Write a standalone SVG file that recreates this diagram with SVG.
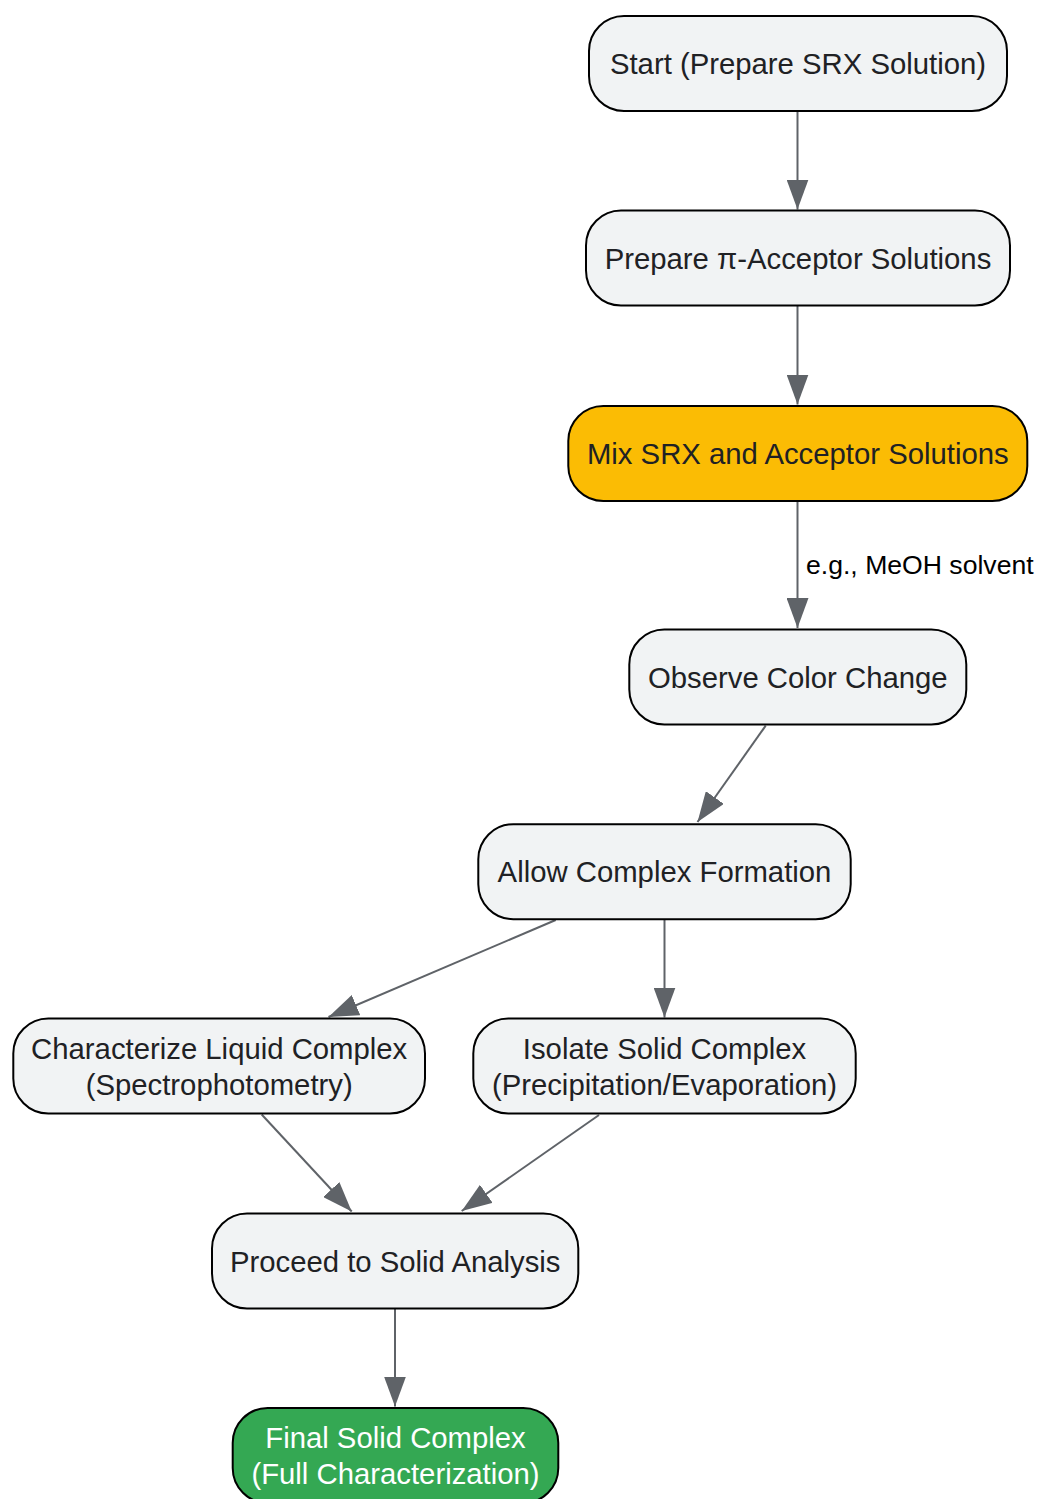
<svg xmlns="http://www.w3.org/2000/svg" width="1038" height="1499" viewBox="0 0 1038 1499">
<style>
  .node rect { fill: #f1f3f4; stroke: #000000; stroke-width: 2; }
  .node text { font-family: "Liberation Sans", Arial, sans-serif; font-size: 29.3px; fill: #202124; text-anchor: middle; }
  #mix rect { fill: #fbbc04; }
  #final rect { fill: #34a853; }
  #final text { fill: #ffffff; }
  .edges path { fill: none; stroke: #5f6368; stroke-width: 2; marker-end: url(#arrow); }
  .elabel { font-family: "Liberation Sans", Arial, sans-serif; font-size: 26.6px; fill: #000000; }
</style>
<defs>
  <marker id="arrow" markerUnits="userSpaceOnUse" markerWidth="30" markerHeight="22" refX="30" refY="11" orient="auto">
    <path d="M0,0 L30,11 L0,22 z" fill="#5f6368"/>
  </marker>
</defs>
<rect x="0" y="0" width="1038" height="1499" fill="#ffffff"/>
<g class="edges" id="edges">
  <path d="M797.5,112 L797.5,209.5"/>
  <path d="M797.5,306 L797.5,404.5"/>
  <path d="M797.5,501 L797.5,628"/>
  <path d="M765.7,725.7 L697.5,822"/>
  <path d="M555.7,920 L328.5,1017"/>
  <path d="M664.5,920 L664.5,1017.5"/>
  <path d="M261.7,1114.5 L351.7,1211.5"/>
  <path d="M599,1115 L461.7,1211"/>
  <path d="M395,1309 L395,1406.5"/>
  <text class="elabel" x="806" y="573.5">e.g., MeOH solvent</text>
</g>
<g class="node" id="start">
  <rect x="589" y="16" width="418" height="95" rx="35" ry="35"/>
  <text x="798" y="74">Start (Prepare SRX Solution)</text>
</g>
<g class="node" id="prepare">
  <rect x="586" y="210.5" width="424" height="95" rx="35" ry="35"/>
  <text x="798" y="268.5">Prepare π-Acceptor Solutions</text>
</g>
<g class="node" id="mix">
  <rect x="568.3" y="406" width="459" height="95" rx="35" ry="35"/>
  <text x="797.8" y="464">Mix SRX and Acceptor Solutions</text>
</g>
<g class="node" id="observe">
  <rect x="629.3" y="629.5" width="337" height="95" rx="35" ry="35"/>
  <text x="797.8" y="687.5">Observe Color Change</text>
</g>
<g class="node" id="allow">
  <rect x="478.3" y="824.2" width="372.4" height="95" rx="35" ry="35"/>
  <text x="664.5" y="882.2">Allow Complex Formation</text>
</g>
<g class="node" id="characterize">
  <rect x="13.3" y="1018.5" width="411.7" height="95" rx="35" ry="35"/>
  <text x="219.2" y="1058.5">Characterize Liquid Complex</text>
  <text x="219.2" y="1094.5">(Spectrophotometry)</text>
</g>
<g class="node" id="isolate">
  <rect x="473.3" y="1018.5" width="382.4" height="95" rx="35" ry="35"/>
  <text x="664.5" y="1058.5">Isolate Solid Complex</text>
  <text x="664.5" y="1094.5">(Precipitation/Evaporation)</text>
</g>
<g class="node" id="proceed">
  <rect x="212" y="1213.5" width="366.3" height="95" rx="35" ry="35"/>
  <text x="395.2" y="1271.5">Proceed to Solid Analysis</text>
</g>
<g class="node" id="final">
  <rect x="232.7" y="1408" width="325.6" height="95" rx="35" ry="35"/>
  <text x="395.5" y="1448">Final Solid Complex</text>
  <text x="395.5" y="1484">(Full Characterization)</text>
</g>
</svg>
